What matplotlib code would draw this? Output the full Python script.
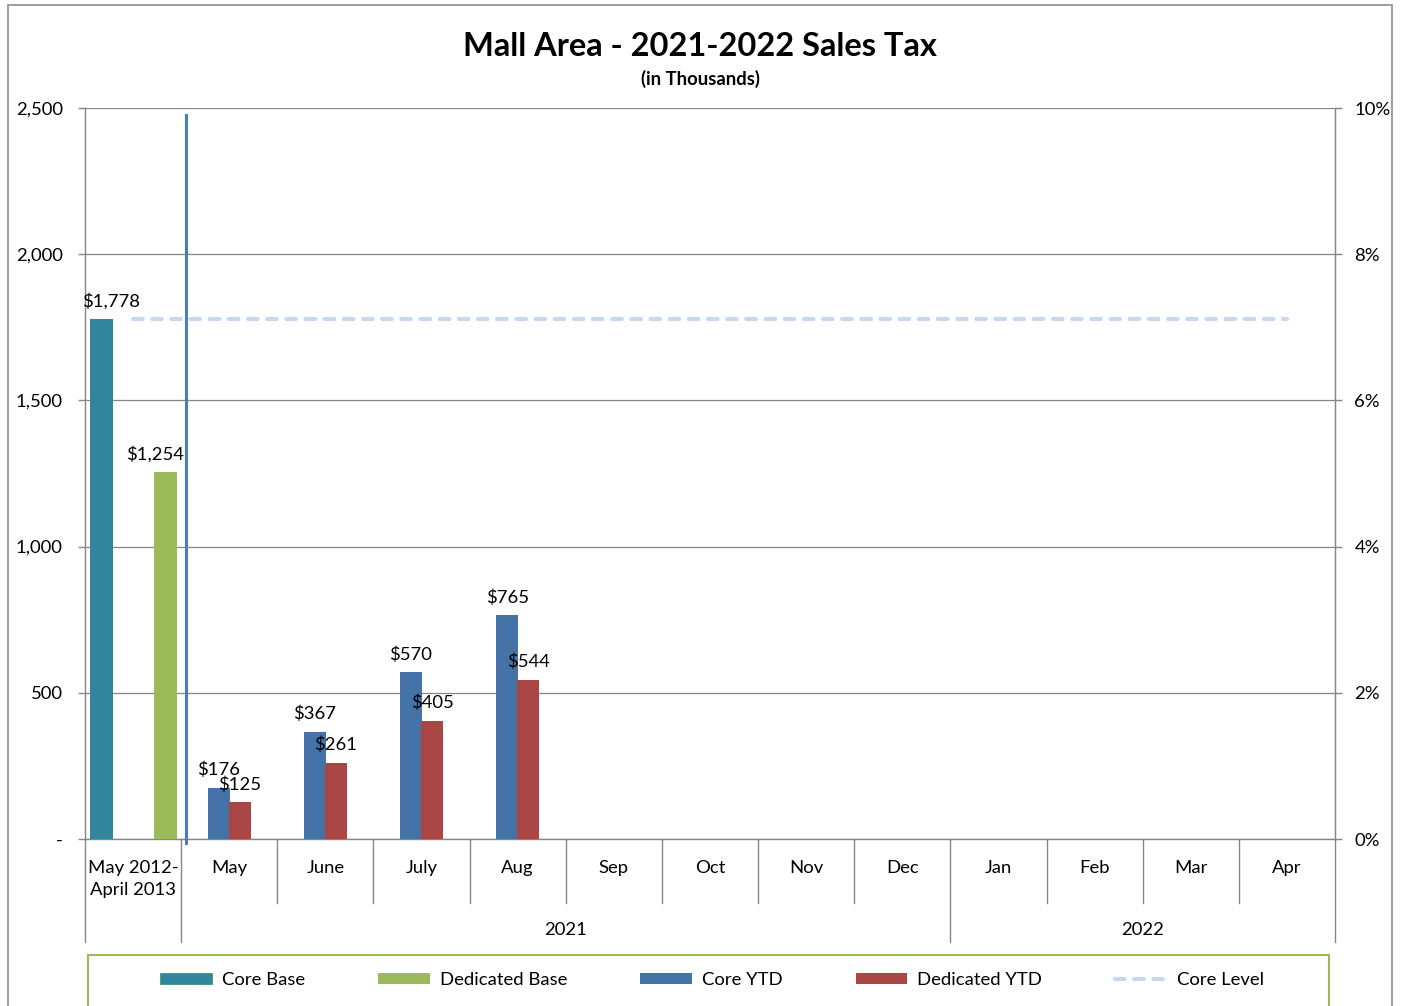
import matplotlib
matplotlib.use("Agg")
import matplotlib.pyplot as plt
from matplotlib.patches import Rectangle, Patch
from matplotlib.lines import Line2D
from matplotlib.ticker import FuncFormatter, PercentFormatter
import matplotlib.transforms as mtrans

plt.rcParams['font.family'] = ['Lato', 'DejaVu Sans']

# ---------------- data ----------------
categories = ["May 2012-\nApril 2013", "May", "June", "July", "Aug", "Sep", "Oct",
              "Nov", "Dec", "Jan", "Feb", "Mar", "Apr"]
years = ["2021", "2022"]
year_first = [1, 9]      # first category index of each year group
year_last = [8, 12]      # last category index of each year group

core_base = [1778]
dedicated_base = [1254]
core_ytd = [176, 367, 570, 765]          # May..Aug
dedicated_ytd = [125, 261, 405, 544]     # May..Aug
core_level = [1778, 1778, 1778, 1778, 1778, 1778, 1778, 1778, 1778, 1778, 1778, 1778, 1778]

# ---------------- style ----------------
C_CORE_BASE = "#31859C"
C_DED_BASE = "#9BBB59"
C_CORE_YTD = "#4572A7"
C_DED_YTD = "#AA4643"
C_LEVEL = "#C6D9F1"
C_VLINE = "#4A7EBB"
GRID = "#868686"
FS = 13.3

fig = plt.figure(figsize=(14.01, 10.06), dpi=100)
ax = fig.add_axes([85 / 1401, 167 / 1006, 1250 / 1401, 731 / 1006])

n = len(categories)
x_all = list(range(n))

# bars
bw = 0.23
ax.bar([0 - 0.333], core_base, width=0.24, color=C_CORE_BASE, zorder=3, label="Core Base")
ax.bar([0 + 0.333], dedicated_base, width=0.24, color=C_DED_BASE, zorder=3, label="Dedicated Base")
mx = [1 + i for i in range(len(core_ytd))]
ax.bar([v - 0.11 for v in mx], core_ytd, width=bw, color=C_CORE_YTD, zorder=3, label="Core YTD")
ax.bar([v + 0.11 for v in mx], dedicated_ytd, width=bw, color=C_DED_YTD, zorder=3, label="Dedicated YTD")

# core level dashed line
ax.plot(x_all, core_level, color=C_LEVEL, lw=3, dashes=(2.3, 2.3),
        dash_capstyle='round', zorder=4)

# separator vertical line
ax.plot([0.55, 0.55], [2476, -14], color=C_VLINE, lw=2.2, zorder=5, clip_on=False)

# data labels
def lab(x, v, dx=0):
    ax.annotate(f"${v:,}", (x, v), xytext=(dx, 7), textcoords="offset points",
                ha="center", va="bottom", fontsize=FS, zorder=6)

lab(0 - 0.333, core_base[0], dx=7)
lab(0 + 0.333, dedicated_base[0], dx=-7)
for v, c, d in zip(mx, core_ytd, dedicated_ytd):
    lab(v - 0.11, c)
    lab(v + 0.11, d)

# axes
ax.set_xlim(-0.5, n - 0.5)
ax.set_ylim(0, 2500)
ax.set_yticks([0, 500, 1000, 1500, 2000, 2500])
ax.yaxis.set_major_formatter(FuncFormatter(lambda v, p: "-" if v == 0 else f"{int(v):,}"))
ax.grid(axis="y", color=GRID, lw=0.9, zorder=0)
ax.set_axisbelow(True)
ax.spines["top"].set_visible(False)
for s in ["left", "right", "bottom"]:
    ax.spines[s].set_color(GRID)
    ax.spines[s].set_linewidth(1.0)
ax.tick_params(axis="y", direction="out", length=5, width=1, color=GRID,
               labelsize=FS, pad=11)
ax.set_xticks(x_all)
ax.set_xticklabels(categories, fontsize=FS, linespacing=1.45)
ax.tick_params(axis="x", length=0, pad=15)

# right axis
ax2 = ax.twinx()
ax2.set_ylim(0, 0.10)
ax2.set_yticks([0, 0.02, 0.04, 0.06, 0.08, 0.10])
ax2.yaxis.set_major_formatter(PercentFormatter(1.0, decimals=0))
ax2.tick_params(axis="y", direction="out", length=5, width=1, color=GRID,
                labelsize=FS, pad=9)
for s in ["top", "left", "bottom"]:
    ax2.spines[s].set_visible(False)
ax2.spines["right"].set_color(GRID)

# category separators below axis
tr = mtrans.blended_transform_factory(ax.transData, ax.transAxes)
group_bounds = [-0.5, 0.5] + [b + 0.5 for b in year_last]
for i in range(n + 1):
    b = i - 0.5
    y1 = -0.141 if b in group_bounds else -0.0876
    ax.plot([b, b], [0, y1], color=GRID, lw=1.0, transform=tr, clip_on=False)

# year labels
for yl, a, b in zip(years, year_first, year_last):
    ax.text((a + b) / 2, -0.125, yl, transform=tr, ha="center", va="center", fontsize=FS)

# titles
fig.text(700 / 1401, 1 - 47 / 1006, "Mall Area - 2021-2022 Sales Tax", ha="center",
         va="center", fontsize=23.5, fontweight="bold")
fig.text(700 / 1401, 1 - 79 / 1006, "(in Thousands)", ha="center", va="center",
         fontsize=13.3, fontweight="bold")

# outer border
fig.patches.append(Rectangle((8 / 1401, -0.02), 1384 / 1401, 1.02 - 5 / 1006,
                             transform=fig.transFigure, fill=False,
                             edgecolor="#8C8C8C", lw=1.2))
# legend frame
fig.patches.append(Rectangle((88 / 1401, -0.02), 1241 / 1401, 0.02 + 51 / 1006,
                             transform=fig.transFigure, fill=False,
                             edgecolor="#9BBB59", lw=1.5))

handles = [Patch(facecolor=C_CORE_BASE, edgecolor="#2E8B57", lw=0.5),
           Patch(facecolor=C_DED_BASE),
           Patch(facecolor=C_CORE_YTD),
           Patch(facecolor=C_DED_YTD),
           Line2D([0], [0], color=C_LEVEL, lw=3, dashes=(2.3, 2.3), dash_capstyle='round')]
labels = ["Core Base", "Dedicated Base", "Core YTD", "Dedicated YTD", "Core Level"]
fig.legend(handles, labels, loc="center", bbox_to_anchor=(712 / 1401, 1 - 980 / 1006),
           ncol=5, frameon=False, fontsize=FS, handlelength=2.8, handleheight=0.6,
           handletextpad=0.55, columnspacing=3.95)

fig.savefig("out.png", dpi=100)
